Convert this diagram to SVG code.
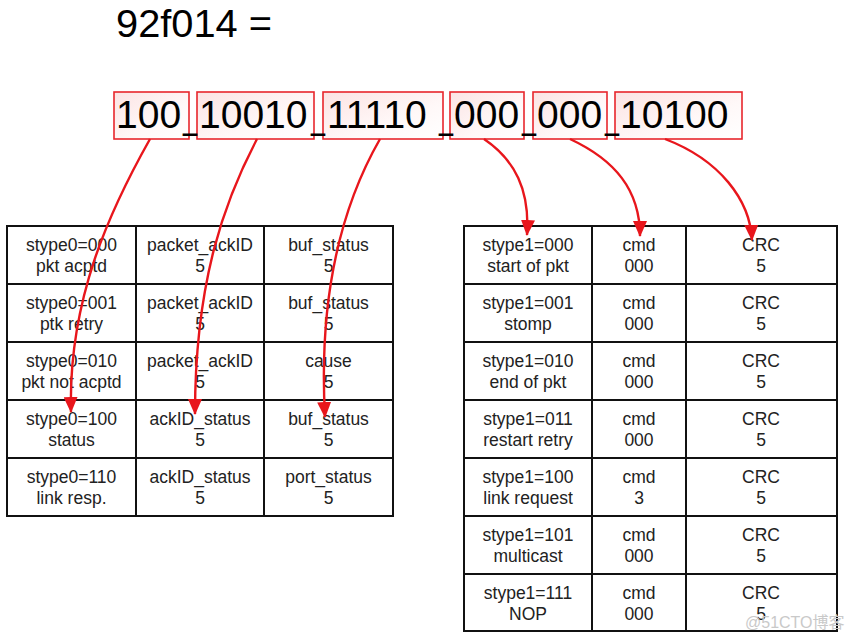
<svg xmlns="http://www.w3.org/2000/svg" width="846" height="640" viewBox="0 0 846 640">
<defs>
<linearGradient id="pink" x1="0" y1="0" x2="1" y2="1">
<stop offset="0" stop-color="#fbe3e3"/>
<stop offset="0.6" stop-color="#fff8f8"/>
<stop offset="1" stop-color="#ffffff"/>
</linearGradient>
<marker id="ah" markerUnits="userSpaceOnUse" markerWidth="16" markerHeight="14" viewBox="0 0 16 14" refX="15" refY="7" orient="auto">
<path d="M0,0 L16,7 L0,14 Z" fill="#e8161c"/>
</marker>
<style>
.big{font-family:"Liberation Sans",Arial,sans-serif;font-size:39px;fill:#000}
.us{font-family:"Liberation Sans",Arial,sans-serif;font-size:39px;fill:#000}
.seg{fill:url(#pink);stroke:#e8262c;stroke-width:1.6}
.cell{fill:#fff;stroke:#111;stroke-width:2}
.t{font-family:"Liberation Sans",Arial,sans-serif;font-size:17.5px;fill:#222;text-anchor:middle}
.arr{fill:none;stroke:#e8161c;stroke-width:2.4;marker-end:url(#ah)}
.wm{font-family:"Liberation Sans","Noto Sans CJK SC",sans-serif;font-size:16px;fill:#c9c9c9}
</style>
</defs>
<rect width="846" height="640" fill="#fff"/>
<text class="big" x="116" y="37" textLength="156" lengthAdjust="spacingAndGlyphs">92f014 =</text>
<g id="bits">
<rect class="seg" x="114" y="92" width="75" height="47"/>
<rect class="seg" x="197" y="92" width="117" height="47"/>
<rect class="seg" x="323" y="92" width="120" height="47"/>
<rect class="seg" x="450" y="92" width="74" height="47"/>
<rect class="seg" x="533" y="92" width="74" height="47"/>
<rect class="seg" x="615" y="92" width="127" height="47"/>
<text class="big" x="116" y="128">100</text>
<text class="us" x="183" y="128" textLength="14" lengthAdjust="spacingAndGlyphs">_</text>
<text class="big" x="199" y="128">10010</text>
<text class="us" x="311" y="128" textLength="14" lengthAdjust="spacingAndGlyphs">_</text>
<text class="big" x="327" y="128">11110</text>
<text class="us" x="439" y="128" textLength="14" lengthAdjust="spacingAndGlyphs">_</text>
<text class="big" x="454" y="128">000</text>
<text class="us" x="522" y="128" textLength="14" lengthAdjust="spacingAndGlyphs">_</text>
<text class="big" x="537" y="128">000</text>
<text class="us" x="605" y="128" textLength="14" lengthAdjust="spacingAndGlyphs">_</text>
<text class="big" x="620" y="128">10100</text>
</g>
<g id="stype0-table">
<rect class="cell" x="7" y="226" width="386" height="290"/>
<path d="M136,226V516M264,226V516M7,284H393M7,342H393M7,400H393M7,458H393" stroke="#111" stroke-width="2" fill="none"/>
<text class="t" x="71.5" y="251">stype0=000</text><text class="t" x="71.5" y="272">pkt acptd</text>
<text class="t" x="200" y="251">packet_ackID</text><text class="t" x="200" y="272">5</text>
<text class="t" x="328.5" y="251">buf_status</text><text class="t" x="328.5" y="272">5</text>
<text class="t" x="71.5" y="309">stype0=001</text><text class="t" x="71.5" y="330">ptk retry</text>
<text class="t" x="200" y="309">packet_ackID</text><text class="t" x="200" y="330">5</text>
<text class="t" x="328.5" y="309">buf_status</text><text class="t" x="328.5" y="330">5</text>
<text class="t" x="71.5" y="367">stype0=010</text><text class="t" x="71.5" y="388">pkt not acptd</text>
<text class="t" x="200" y="367">packet_ackID</text><text class="t" x="200" y="388">5</text>
<text class="t" x="328.5" y="367">cause</text><text class="t" x="328.5" y="388">5</text>
<text class="t" x="71.5" y="425">stype0=100</text><text class="t" x="71.5" y="446">status</text>
<text class="t" x="200" y="425">ackID_status</text><text class="t" x="200" y="446">5</text>
<text class="t" x="328.5" y="425">buf_status</text><text class="t" x="328.5" y="446">5</text>
<text class="t" x="71.5" y="483">stype0=110</text><text class="t" x="71.5" y="504">link resp.</text>
<text class="t" x="200" y="483">ackID_status</text><text class="t" x="200" y="504">5</text>
<text class="t" x="328.5" y="483">port_status</text><text class="t" x="328.5" y="504">5</text>
</g>
<g id="stype1-table">
<rect class="cell" x="464" y="226" width="373" height="405"/>
<path d="M592,226V631M686,226V631M464,284H837M464,342H837M464,400H837M464,458H837M464,516H837M464,574H837" stroke="#111" stroke-width="2" fill="none"/>
<text class="t" x="528" y="251">stype1=000</text><text class="t" x="528" y="272">start of pkt</text>
<text class="t" x="639" y="251">cmd</text><text class="t" x="639" y="272">000</text>
<text class="t" x="761" y="251">CRC</text><text class="t" x="761" y="272">5</text>
<text class="t" x="528" y="309">stype1=001</text><text class="t" x="528" y="330">stomp</text>
<text class="t" x="639" y="309">cmd</text><text class="t" x="639" y="330">000</text>
<text class="t" x="761" y="309">CRC</text><text class="t" x="761" y="330">5</text>
<text class="t" x="528" y="367">stype1=010</text><text class="t" x="528" y="388">end of pkt</text>
<text class="t" x="639" y="367">cmd</text><text class="t" x="639" y="388">000</text>
<text class="t" x="761" y="367">CRC</text><text class="t" x="761" y="388">5</text>
<text class="t" x="528" y="425">stype1=011</text><text class="t" x="528" y="446">restart retry</text>
<text class="t" x="639" y="425">cmd</text><text class="t" x="639" y="446">000</text>
<text class="t" x="761" y="425">CRC</text><text class="t" x="761" y="446">5</text>
<text class="t" x="528" y="483">stype1=100</text><text class="t" x="528" y="504">link request</text>
<text class="t" x="639" y="483">cmd</text><text class="t" x="639" y="504">3</text>
<text class="t" x="761" y="483">CRC</text><text class="t" x="761" y="504">5</text>
<text class="t" x="528" y="541">stype1=101</text><text class="t" x="528" y="562">multicast</text>
<text class="t" x="639" y="541">cmd</text><text class="t" x="639" y="562">000</text>
<text class="t" x="761" y="541">CRC</text><text class="t" x="761" y="562">5</text>
<text class="t" x="528" y="599">stype1=111</text><text class="t" x="528" y="620">NOP</text>
<text class="t" x="639" y="599">cmd</text><text class="t" x="639" y="620">000</text>
<text class="t" x="761" y="599">CRC</text><text class="t" x="761" y="620">5</text>
</g>
<g id="connectors">
<path class="arr" d="M150,139 C110,210 68,300 71,412"/>
<path class="arr" d="M257,139 C225,200 195,280 195,414"/>
<path class="arr" d="M380,139 C345,200 318,290 325,417"/>
<path class="arr" d="M484,139 C515,160 530,190 527,235"/>
<path class="arr" d="M570,139 C615,160 640,190 640,236"/>
<path class="arr" d="M665,139 C720,160 750,200 752,240"/>
</g>
<text class="wm" x="745" y="628">@51CTO博客</text>
</svg>
